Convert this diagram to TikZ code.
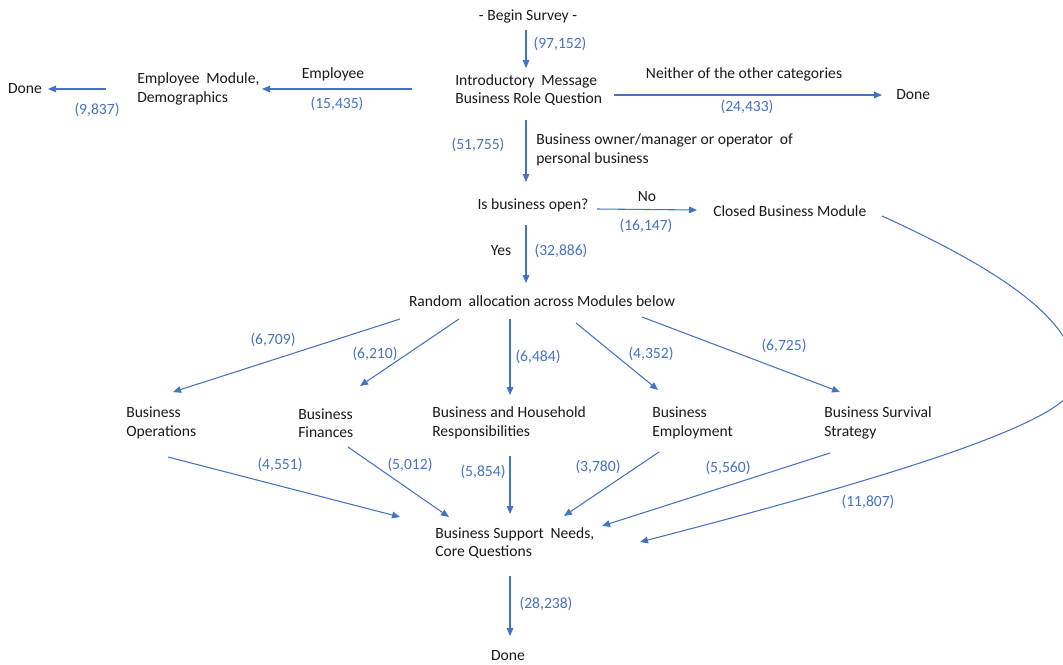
\documentclass[tikz,border=0pt]{standalone}
\usepackage{fontspec}
\setmainfont{Carlito}
\usetikzlibrary{arrows.meta,calc}
\definecolor{flow}{HTML}{4472C4}
\newcommand{\gapx}{\hspace{0.2em}}
\tikzset{
  txt/.style={inner sep=0pt, align=left, font=\fontsize{11.7}{13.8}\selectfont, text=black!90},
  wtxt/.style={txt, anchor=west},
  num/.style={inner sep=0pt, font=\fontsize{11.7}{13.8}\selectfont, text=flow},
  arr/.style={draw=flow, line width=0.8pt, -{Triangle[length=6pt,width=5pt]}}
}
\begin{document}
\begin{tikzpicture}[x=0.75pt,y=-0.75pt]
\useasboundingbox (0,0) rectangle (1063,664);
\clip (0,0) rectangle (1063,664);
% nodes
\node[txt] (begin) at (528,16) {- Begin Survey -};
\node[wtxt] (intro) at (455,90) {Introductory\gapx{} Message\\Business Role Question};
\node[wtxt] (emp) at (137,89) {Employee\gapx{} Module,\\Demographics};
\node[txt] (done1) at (25,89) {Done};
\node[wtxt] (done2) at (896,95) {Done};
\node[txt] (open) at (533,205) {Is business open?};
\node[wtxt] (closed) at (713,211) {Closed Business Module};
\node[txt] (rand) at (542,301) {Random\gapx{} allocation across Modules below};
\node[wtxt] (ops) at (126,423) {Business\\Operations};
\node[wtxt] (fin) at (298,423) {Business\\Finances};
\node[wtxt] (hh) at (432,423) {Business and Household\\Responsibilities};
\node[wtxt] (empl) at (652,423) {Business\\Employment};
\node[wtxt] (surv) at (824,423) {Business Survival\\Strategy};
\node[wtxt] (needs) at (435,543) {Business Support\gapx{} Needs,\\Core Questions};
\node[txt] (done3) at (508,656) {Done};
% connectors
\draw[arr] ($(begin)+(-2,14)$) -- ($(intro.west)+(71,-22)$);
\draw[arr] ($(intro.west)+(-43,-1)$) -- ($(emp.west)+(125,0)$);
\draw[arr] ($(emp.west)+(-31,0)$) -- ($(done1)+(23,0)$);
\draw[arr] ($(intro.west)+(159,5)$) -- ($(done2.west)+(-14,0)$);
\draw[arr] ($(intro.west)+(71,30)$) -- ($(open)+(-7,-23)$);
\draw[arr] ($(open)+(64,4)$) -- ($(closed.west)+(-16,-1)$);
\draw[arr] ($(open)+(-7,20)$) -- ($(rand)+(-16,-18)$);
\draw[arr] ($(rand)+(-142,18)$) -- ($(ops.west)+(47,-31)$);
\draw[arr] ($(rand)+(-83,18)$) -- ($(fin.west)+(62,-37)$);
\draw[arr] ($(rand)+(-32,18)$) -- ($(hh.west)+(78,-28)$);
\draw[arr] ($(rand)+(34,22)$) -- ($(empl.west)+(6,-33)$);
\draw[arr] ($(rand)+(100,16)$) -- ($(surv.west)+(16,-31)$);
\draw[arr] ($(ops.west)+(42,34)$) -- ($(needs.west)+(-35,-26)$);
\draw[arr] ($(fin.west)+(50,24)$) -- ($(needs.west)+(14,-26)$);
\draw[arr] ($(hh.west)+(78,33)$) -- ($(needs.west)+(75,-29)$);
\draw[arr] ($(empl.west)+(7,29)$) -- ($(needs.west)+(129,-27)$);
\draw[arr] ($(surv.west)+(6,30)$) -- ($(needs.west)+(167,-17)$);
\draw[arr] ($(closed.west)+(169,5)$) .. controls (1045,290) and (1082,340) .. (1074,385)
  .. controls (1068,425) and (860,485) .. ($(needs.west)+(205,-1)$);
\draw[arr] ($(needs.west)+(75,33)$) -- ($(done3)+(2,-20)$);
% labels
\node[num] (n1) at (560,44) {(97,152)};
\node[txt] (t1) at (333,74) {Employee};
\node[num] (n2) at (337,104) {(15,435)};
\node[num] (n3) at (97,110) {(9,837)};
\node[txt] (t2) at (744,74) {Neither of the other categories};
\node[num] (n4) at (747,107) {(24,433)};
\node[num] (n5) at (478,145) {(51,755)};
\node[wtxt] (t3) at (536,150) {Business owner/manager or operator\gapx{} of\\personal business};
\node[txt] (t4) at (647,197) {No};
\node[num] (n6) at (646,226) {(16,147)};
\node[txt] (t5) at (501,251) {Yes};
\node[num] (n7) at (561,251) {(32,886)};
\node[num] (n8) at (273,340) {(6,709)};
\node[num] (n9) at (375,354) {(6,210)};
\node[num] (n10) at (538,357) {(6,484)};
\node[num] (n11) at (651,354) {(4,352)};
\node[num] (n12) at (784,346) {(6,725)};
\node[num] (n13) at (280,465) {(4,551)};
\node[num] (n14) at (410,465) {(5,012)};
\node[num] (n15) at (483,472) {(5,854)};
\node[num] (n16) at (598,467) {(3,780)};
\node[num] (n17) at (728,468) {(5,560)};
\node[num] (n18) at (868,502) {(11,807)};
\node[num] (n19) at (546,604) {(28,238)};
\end{tikzpicture}
\end{document}
